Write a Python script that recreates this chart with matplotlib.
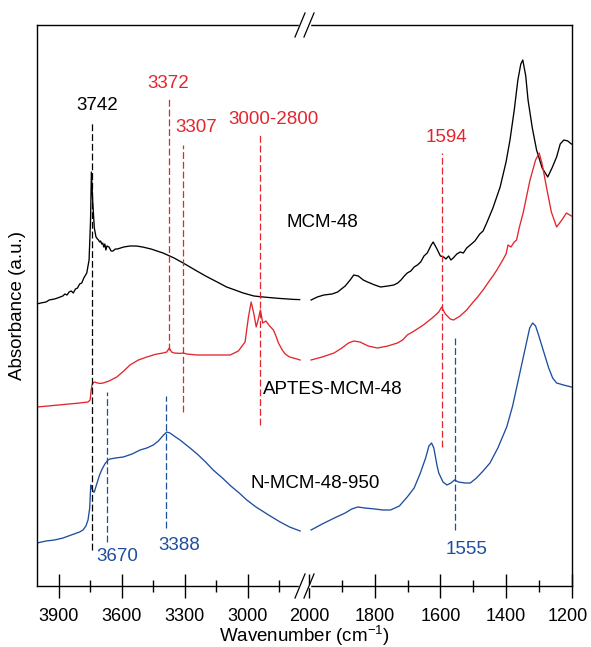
import numpy as np
import matplotlib
matplotlib.use('Agg')
import matplotlib.pyplot as plt
import matplotlib.transforms as mtransforms
from matplotlib.lines import Line2D

plt.rcParams['font.family'] = ['Liberation Sans', 'DejaVu Sans']
plt.rcParams['mathtext.default'] = 'regular'

red = '#e3262d'
blue = '#1f4e9e'
fs = 13.5

# MCM-48, high wavenumber part (4000-2750) and low part (2000-1200)
mcm_hi_wn = [4003, 3985, 3960, 3945, 3920, 3905, 3880, 3870, 3860, 3850, 3840, 3830, 3820, 3810,
             3800, 3790, 3780, 3766, 3755, 3748, 3744, 3738, 3730, 3722, 3715, 3710, 3705, 3700,
             3695, 3690, 3685, 3680, 3675, 3670, 3660, 3650, 3641, 3630, 3620, 3590, 3560, 3530,
             3500, 3460, 3403, 3350, 3307, 3250, 3200, 3145, 3100, 3060, 3021, 2970, 2926, 2850,
             2780, 2752]
mcm_hi_a = [1.48, 1.485, 1.49, 1.50, 1.505, 1.51, 1.52, 1.53, 1.525, 1.54, 1.545, 1.535, 1.555, 1.56,
            1.58, 1.585, 1.61, 1.635, 1.70, 1.90, 2.14, 2.00, 1.86, 1.815, 1.805, 1.80, 1.79, 1.795,
            1.78, 1.785, 1.765, 1.78, 1.75, 1.77, 1.765, 1.745, 1.745, 1.755, 1.755, 1.765, 1.77, 1.77,
            1.765, 1.755, 1.735, 1.71, 1.685, 1.65, 1.62, 1.59, 1.565, 1.55, 1.535, 1.52, 1.515, 1.508,
            1.503, 1.502]
mcm_lo_wn = [1994, 1975, 1955, 1930, 1913, 1890, 1875, 1864, 1850, 1835, 1822, 1800, 1782, 1760,
             1742, 1730, 1720, 1710, 1701, 1690, 1680, 1670, 1660, 1650, 1640, 1628, 1622, 1612,
             1600, 1590, 1583, 1575, 1568, 1561, 1550, 1540, 1530, 1520, 1509, 1495, 1480, 1470,
             1459, 1440, 1418, 1400, 1388, 1375, 1364, 1355, 1349, 1340, 1333, 1320, 1307, 1290,
             1273, 1260, 1246, 1235, 1224, 1212, 1201]
mcm_lo_a = [1.50, 1.515, 1.525, 1.53, 1.54, 1.57, 1.60, 1.625, 1.62, 1.60, 1.59, 1.575, 1.565, 1.57,
            1.575, 1.585, 1.60, 1.62, 1.635, 1.645, 1.665, 1.675, 1.69, 1.72, 1.735, 1.775, 1.79, 1.76,
            1.72, 1.715, 1.705, 1.72, 1.70, 1.71, 1.73, 1.74, 1.735, 1.76, 1.775, 1.795, 1.83, 1.845,
            1.885, 1.96, 2.065, 2.19, 2.30, 2.45, 2.60, 2.68, 2.70, 2.62, 2.50, 2.36, 2.25, 2.16,
            2.115, 2.16, 2.215, 2.28, 2.30, 2.295, 2.28]

# APTES-MCM-48
aptes_hi_wn = [4003, 3950, 3900, 3850, 3800, 3760, 3750, 3745, 3740, 3730, 3715, 3700, 3688, 3660,
               3623, 3590, 3560, 3520, 3480, 3440, 3403, 3385, 3373, 3362, 3350, 3320, 3306, 3290,
               3242, 3160, 3083, 3044, 3012, 2996, 2983, 2970, 2959, 2950, 2939, 2928, 2913, 2895,
               2877, 2865, 2853, 2835, 2821, 2800, 2765, 2750]
aptes_hi_a = [0.965, 0.97, 0.975, 0.98, 0.985, 0.99, 1.00, 1.05, 1.08, 1.09, 1.085, 1.083, 1.085, 1.095,
              1.115, 1.145, 1.175, 1.20, 1.215, 1.228, 1.235, 1.24, 1.26, 1.24, 1.235, 1.233, 1.235, 1.23,
              1.225, 1.225, 1.225, 1.245, 1.29, 1.415, 1.49, 1.43, 1.365, 1.40, 1.45, 1.385, 1.395, 1.37,
              1.35, 1.32, 1.285, 1.25, 1.23, 1.215, 1.205, 1.20]
aptes_lo_wn = [1994, 1960, 1924, 1900, 1880, 1864, 1845, 1820, 1792, 1760, 1731, 1715, 1701, 1680,
               1652, 1625, 1605, 1596, 1585, 1570, 1560, 1540, 1520, 1500, 1489, 1470, 1449, 1440,
               1428, 1410, 1400, 1394, 1385, 1375, 1368, 1360, 1348, 1327, 1310, 1299, 1290, 1277,
               1262, 1246, 1230, 1216, 1201]
aptes_lo_a = [1.20, 1.215, 1.235, 1.26, 1.285, 1.295, 1.29, 1.27, 1.26, 1.27, 1.285, 1.30, 1.325, 1.345,
              1.375, 1.41, 1.44, 1.465, 1.43, 1.405, 1.40, 1.42, 1.45, 1.49, 1.51, 1.55, 1.60, 1.62,
              1.65, 1.70, 1.73, 1.775, 1.765, 1.79, 1.80, 1.86, 1.935, 2.10, 2.20, 2.235, 2.18, 2.065,
              1.94, 1.865, 1.90, 1.935, 1.92]

# N-MCM-48-950
n_hi_wn = [4003, 3960, 3920, 3879, 3840, 3800, 3784, 3770, 3760, 3752, 3747, 3742, 3735, 3730,
           3720, 3705, 3695, 3680, 3665, 3655, 3630, 3592, 3550, 3512, 3480, 3449, 3425, 3400,
           3385, 3370, 3350, 3322, 3280, 3240, 3200, 3164, 3120, 3080, 3040, 3004, 2960, 2900,
           2845, 2800, 2750]
n_hi_a = [0.285, 0.295, 0.30, 0.31, 0.325, 0.34, 0.35, 0.37, 0.40, 0.46, 0.575, 0.56, 0.54, 0.54,
          0.575, 0.625, 0.65, 0.68, 0.70, 0.705, 0.71, 0.715, 0.73, 0.75, 0.76, 0.775, 0.795, 0.825,
          0.84, 0.835, 0.82, 0.80, 0.765, 0.73, 0.69, 0.65, 0.61, 0.57, 0.535, 0.50, 0.465, 0.425,
          0.39, 0.365, 0.345]
n_lo_wn = [1994, 1960, 1923, 1890, 1870, 1852, 1830, 1800, 1775, 1752, 1725, 1701, 1680, 1661,
           1645, 1635, 1627, 1620, 1610, 1605, 1592, 1580, 1568, 1557, 1545, 1525, 1509, 1490,
           1470, 1449, 1425, 1398, 1380, 1358, 1340, 1328, 1319, 1310, 1300, 1287, 1270, 1258,
           1246, 1225, 1201]
n_lo_a = [0.35, 0.38, 0.41, 0.435, 0.455, 0.465, 0.46, 0.455, 0.45, 0.45, 0.47, 0.515, 0.56, 0.635,
          0.71, 0.77, 0.785, 0.76, 0.67, 0.635, 0.59, 0.575, 0.585, 0.60, 0.59, 0.585, 0.585, 0.61,
          0.645, 0.685, 0.76, 0.865, 0.97, 1.135, 1.27, 1.36, 1.385, 1.37, 1.32, 1.25, 1.16, 1.11,
          1.085, 1.075, 1.065]

# marker lines: position, top, bottom, colour
mark_wn = [3742, 3372, 3307, 2940, 1594, 3670, 3388, 1555]
mark_top = [2.385, 2.515, 2.275, 2.335, 2.233, 1.04, 1.02, 1.31]
mark_bot = [0.25, 1.25, 0.94, 0.875, 0.767, 0.29, 0.36, 0.35]
mark_col = ['k', red, red, red, red, blue, blue, blue]

# band labels: text, wavenumber, height, colour
band_txt = ['3742', '3372', '3307', '3000-2800', '1594', '3670', '3388', '1555']
band_wn = [3717, 3379, 3246, 2876, 1583, 3622, 3326, 1520]
band_a = [2.475, 2.58, 2.365, 2.405, 2.31, 0.217, 0.275, 0.254]

sample_txt = ['MCM-48', 'APTES-MCM-48', 'N-MCM-48-950']
sample_wn = [2816, 2925, 2988]
sample_a = [1.887, 1.05, 0.58]

fig = plt.figure(figsize=(5.91, 6.47), dpi=100)
L, R, B, T = 37/591, 571.7/591, 61/647, 622/647
brk = 304.5/591
ax1 = fig.add_axes([L, B, brk-L, T-B])
ax2 = fig.add_axes([brk, B, R-brk, T-B])
ax2.patch.set_visible(False)

lw = 0.95
for ax in (ax1, ax2):
    ax.plot(mcm_hi_wn, mcm_hi_a, color='k', lw=lw)
    ax.plot(mcm_lo_wn, mcm_lo_a, color='k', lw=lw)
    ax.plot(aptes_hi_wn, aptes_hi_a, color=red, lw=lw)
    ax.plot(aptes_lo_wn, aptes_lo_a, color=red, lw=lw)
    ax.plot(n_hi_wn, n_hi_a, color=blue, lw=lw)
    ax.plot(n_lo_wn, n_lo_a, color=blue, lw=lw)
    for w, t, b, c in zip(mark_wn, mark_top, mark_bot, mark_col):
        ax.plot([w, w], [b, t], color=c, lw=0.9, dashes=(5.5, 2.3))
    ax.set_ylim(0.07, 2.875)
    ax.set_yticks([])
    for s in ax.spines.values():
        s.set_linewidth(1.0)
    ax.tick_params(axis='x', which='major', direction='inout', length=17, width=1.0,
                   labelsize=13, pad=7.5)
    ax.tick_params(axis='x', which='minor', direction='inout', length=8, width=1.0)

ax1.set_xlim(4003, 2729)
ax2.set_xlim(2014, 1200)
ax1.set_xticks([3900, 3600, 3300, 3000])
ax1.set_xticks([3750, 3450, 3150, 2850], minor=True)
ax2.set_xticks([2000, 1800, 1600, 1400, 1200])
ax2.set_xticks([1900, 1700, 1500, 1300], minor=True)
ax1.spines['right'].set_visible(False)
ax2.spines['left'].set_visible(False)

# keep the last tick label inside the canvas
last = ax2.xaxis.get_major_ticks()[-1].label1
last.set_transform(last.get_transform() +
                   mtransforms.ScaledTranslation(-3/72, 0, fig.dpi_scale_trans))

for t, w, a, c in zip(band_txt, band_wn, band_a, mark_col):
    axx = ax1 if w > 2100 else ax2
    axx.text(w, a, t, color=c, fontsize=fs, ha='center', va='center', clip_on=False)
for t, w, a in zip(sample_txt, sample_wn, sample_a):
    ax1.text(w, a, t, color='k', fontsize=fs, ha='left', va='center', clip_on=False)

ax1.set_ylabel('Absorbance (a.u.)', fontsize=fs, labelpad=8)
fig.text(304.5/591, 1-636/647, 'Wavenumber (cm$^{\\mathregular{-1}}$)', fontsize=fs,
         ha='center', va='center')

# axis break marks on top and bottom spine
W, H = 591.0, 647.0
for ys in (25, 586):
    fig.add_artist(Line2D([300/W, 309/W], [1-ys/H, 1-ys/H], color='white', lw=2.5))
    for x0 in (300, 309):
        fig.add_artist(Line2D([(x0+5)/W, (x0-5)/W], [1-(ys-12)/H, 1-(ys+12)/H],
                              color='k', lw=0.9))

fig.savefig('out.png', dpi=100)
